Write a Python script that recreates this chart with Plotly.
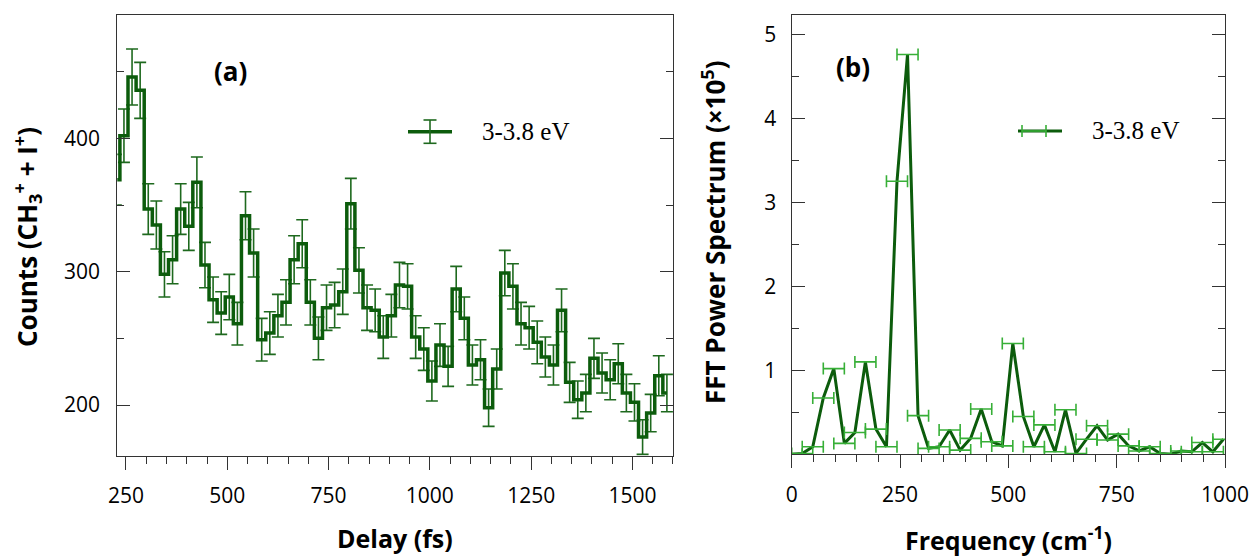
import plotly.graph_objects as go

# ---------------- data: panel (a) ----------------
delay_fs = [225, 245, 265, 285, 305, 325, 345, 365, 385, 405,
            425, 445, 465, 485, 505, 525, 545, 565, 585, 605,
            625, 645, 665, 685, 705, 725, 745, 765, 785, 805,
            825, 845, 865, 885, 905, 925, 945, 965, 985, 1005,
            1025, 1045, 1065, 1085, 1105, 1125, 1145, 1165, 1185, 1205,
            1225, 1245, 1265, 1285, 1305, 1325, 1345, 1365, 1385, 1405,
            1425, 1445, 1465, 1485, 1505, 1525, 1545, 1565, 1585]
counts = [369, 402, 446, 436, 347, 335, 298, 309, 347, 334,
          367, 305, 279, 269, 281, 261, 342, 314, 249, 254,
          267, 277, 309, 321, 277, 250, 273, 275, 285, 351,
          301, 273, 271, 251, 267, 290, 289, 251, 242, 218,
          245, 229, 287, 265, 230, 234, 198, 227, 299, 289,
          261, 258, 247, 236, 230, 271, 217, 204, 209, 235,
          224, 219, 231, 209, 202, 176, 194, 222, 209]
counts_err = [19, 20, 21, 21, 19, 18, 17, 18, 19, 18,
              19, 17, 17, 16, 17, 16, 18, 18, 16, 16,
              16, 17, 18, 18, 17, 16, 17, 17, 17, 19,
              17, 17, 16, 16, 16, 17, 17, 16, 16, 15,
              16, 15, 17, 16, 15, 15, 14, 15, 17, 17,
              16, 16, 16, 15, 15, 16, 15, 14, 14, 15,
              15, 15, 15, 14, 14, 13, 14, 15, 14]

# ---------------- data: panel (b) ----------------
freq_cm = [0, 24.3, 48.6, 72.9, 97.2, 121.5, 145.8, 170.1, 194.4, 218.7,
           243.0, 267.3, 291.6, 315.9, 340.2, 364.5, 388.8, 413.1, 437.4, 461.7,
           486.0, 510.3, 534.6, 558.9, 583.2, 607.5, 631.8, 656.1, 680.4, 704.7,
           729.0, 753.3, 777.6, 801.9, 826.2, 850.5, 874.8, 899.1, 923.4, 947.7,
           972.0, 996.3]
fft_power = [0.00, 0.01, 0.09, 0.67, 1.02, 0.13, 0.26, 1.10, 0.30, 0.09,
             3.25, 4.76, 0.46, 0.07, 0.09, 0.29, 0.05, 0.19, 0.54, 0.15,
             0.10, 1.32, 0.45, 0.09, 0.35, 0.03, 0.53, 0.01, 0.18, 0.34,
             0.17, 0.24, 0.10, 0.04, 0.09, 0.01, 0.00, 0.04, 0.03, 0.14,
             0.03, 0.18]
freq_bin = 24.3

legend_label = "3-3.8 eV"

DARK = "rgb(12,92,12)"
ERR_A = "rgb(30,105,30)"
ERR_B = "rgb(55,175,55)"
FRAME = "#333333"
W, H = 1257, 557


def px(x):
    return x / W


def py(y):
    return 1 - y / H


fig = go.Figure()

# panel (a): error bars then step line on top
fig.add_trace(go.Scatter(
    x=delay_fs, y=counts, mode="markers",
    marker=dict(size=1, color="rgba(0,0,0,0)"),
    error_y=dict(type="data", array=counts_err, color=ERR_A, thickness=1.6, width=6),
    xaxis="x", yaxis="y", showlegend=False, hoverinfo="skip"))
fig.add_trace(go.Scatter(
    x=delay_fs, y=counts, mode="lines", name=legend_label,
    line=dict(shape="hvh", color=DARK, width=3.5),
    xaxis="x", yaxis="y", showlegend=False))

# panel (b): line then x error bars
fig.add_trace(go.Scatter(
    x=freq_cm, y=fft_power, mode="lines", name=legend_label,
    line=dict(color=DARK, width=3),
    xaxis="x2", yaxis="y2", showlegend=False))
fig.add_trace(go.Scatter(
    x=freq_cm, y=fft_power, mode="markers",
    marker=dict(size=1, color="rgba(0,0,0,0)"),
    error_x=dict(type="constant", value=freq_bin, color=ERR_B, thickness=1.6, width=6),
    xaxis="x2", yaxis="y2", showlegend=False, hoverinfo="skip"))

tickfont = dict(family="Open Sans", size=21, color="black")

common_x = dict(showline=True, linecolor=FRAME, linewidth=1.3, mirror=True,
                ticks="outside", ticklen=13, tickwidth=1.3, tickcolor=FRAME,
                showgrid=False, zeroline=False, tickfont=tickfont,
                ticklabelstandoff=8)
common_y = dict(showline=True, linecolor=FRAME, linewidth=1.3, mirror="ticks",
                ticks="inside", ticklen=13, tickwidth=1.3, tickcolor=FRAME,
                showgrid=False, zeroline=False, tickfont=tickfont)

fig.update_layout(
    width=W, height=H,
    margin=dict(l=0, r=0, t=0, b=0),
    paper_bgcolor="white", plot_bgcolor="white",
    template="none",
    showlegend=False,
    xaxis=dict(domain=[px(117.3), px(673.3)], anchor="y", range=[228.6, 1600.8],
               tick0=0, dtick=250,
               minor=dict(dtick=50, ticklen=7, ticks="outside", tickcolor=FRAME, tickwidth=1.2),
               **common_x),
    yaxis=dict(domain=[py(455.7), py(15)], anchor="x", range=[162, 492.5],
               tick0=0, dtick=100, ticklabelstandoff=12,
               minor=dict(dtick=50, ticklen=7, ticks="inside", tickcolor=FRAME, tickwidth=1.2),
               **common_y),
    xaxis2=dict(domain=[px(791.7), px(1225)], anchor="y2", range=[0, 1000],
                tick0=0, dtick=250,
                minor=dict(dtick=50, ticklen=7, ticks="outside", tickcolor=FRAME, tickwidth=1.2),
                **common_x),
    yaxis2=dict(domain=[py(454.3), py(15)], anchor="x2", range=[0, 5.23],
                tickmode="array", tickvals=[0, 1, 2, 3, 4, 5],
                ticktext=["", "1", "2", "3", "4", "5"], ticklabelstandoff=10,
                minor=dict(tickmode="array", tickvals=[0.5, 1.5, 2.5, 3.5, 4.5],
                           ticklen=7, ticks="inside", tickcolor=FRAME, tickwidth=1.2),
                **common_y),
)

title_font = dict(family="Open Sans", size=25, color="black")
ann = [
    dict(text="<b>Delay (fs)</b>", x=px(395.3), y=py(538), font=title_font),
    dict(text="<b>Frequency (cm<sup>-1</sup>)</b>", x=px(1008.4), y=py(538), font=title_font),
    dict(text="<b>Counts (CH<sub>3</sub><sup>+</sup> + I<sup>+</sup>)</b>", x=px(27), y=py(237),
         textangle=-90, font=dict(family="Open Sans", size=26, color="black")),
    dict(text="<b>FFT Power Spectrum (×10<sup>5</sup>)</b>", x=px(714), y=py(232),
         textangle=-90, font=dict(family="Open Sans", size=26, color="black")),
    dict(text="<b>(a)</b>", x=px(230), y=py(71), font=dict(family="Open Sans", size=26, color="black")),
    dict(text="<b>(b)</b>", x=px(852.5), y=py(67), font=dict(family="Open Sans", size=26, color="black")),
    dict(text=legend_label, x=px(480), y=py(131.7), xanchor="left",
         font=dict(family="Liberation Serif", size=25, color="black")),
    dict(text=legend_label, x=px(1090), y=py(131), xanchor="left",
         font=dict(family="Liberation Serif", size=25, color="black")),
]
for a in ann:
    a.setdefault("xanchor", "center")
    a.update(xref="paper", yref="paper", yanchor="middle", showarrow=False)
    fig.add_annotation(**a)

# legend glyphs
shapes = [
    # (a) line + vertical error bar
    dict(x0=408, x1=452, y0=131.7, y1=131.7, color=DARK, w=3.5),
    dict(x0=430, x1=430, y0=120, y1=143.3, color=ERR_A, w=1.6),
    dict(x0=423.5, x1=436.5, y0=120, y1=120, color=ERR_A, w=1.6),
    dict(x0=423.5, x1=436.5, y0=143.3, y1=143.3, color=ERR_A, w=1.6),
    # (b) line + horizontal error bar
    dict(x0=1018, x1=1062, y0=131, y1=131, color=DARK, w=3),
    dict(x0=1022, x1=1046, y0=131, y1=131, color=ERR_B, w=1.6),
    dict(x0=1022, x1=1022, y0=125, y1=137, color=ERR_B, w=1.6),
    dict(x0=1046, x1=1046, y0=125, y1=137, color=ERR_B, w=1.6),
]
for s in shapes:
    fig.add_shape(type="line", xref="paper", yref="paper",
                  x0=px(s["x0"]), x1=px(s["x1"]), y0=py(s["y0"]), y1=py(s["y1"]),
                  line=dict(color=s["color"], width=s["w"]))

fig.write_html("out.html")
